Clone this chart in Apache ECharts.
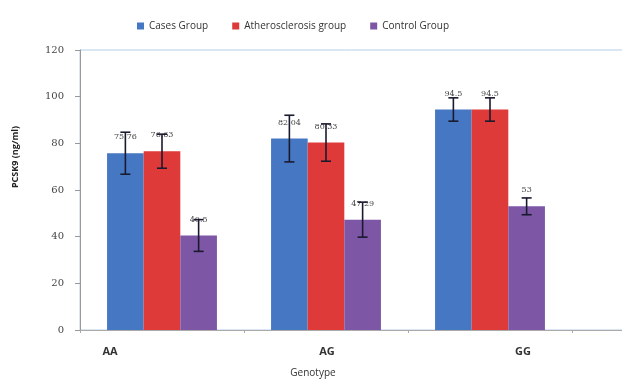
<!DOCTYPE html>
<html><head><meta charset="utf-8">
<script src="https://cdn.jsdelivr.net/npm/echarts@6/dist/echarts.min.js"></script>
<style>html,body{margin:0;padding:0;background:#fff}#c{width:622px;height:380px}</style>
</head><body><div id="c"></div>
<script>
var categories = ['AA', 'AG', 'GG'];
var seriesNames = ['Cases Group', 'Atherosclerosis group', 'Control Group'];
var casesValues = [75.76, 82.04, 94.5];
var atheroValues = [76.63, 80.33, 94.5];
var controlValues = [40.5, 47.29, 53];
var casesErrors = [9, 10, 5];
var atheroErrors = [7.3, 8, 5];
var controlErrors = [6.8, 7.5, 3.6];
var yTicks = [0, 20, 40, 60, 80, 100, 120];
var colors = ['#4677c2', '#df3a3a', '#7d56a6'];

var values = [casesValues, atheroValues, controlValues];
var errors = [casesErrors, atheroErrors, controlErrors];
var labelShift = {AA: 'l', AG: 'm', GG: 'r'};

var chart = echarts.init(document.getElementById('c'));
var series = [];
values.forEach(function (vals, si) {
  series.push({
    name: seriesNames[si], type: 'bar', data: vals, barGap: '0%', barCategoryGap: '33%',
    itemStyle: {color: colors[si]},
    label: {show: true, position: 'top', distance: 12, color: '#444', fontSize: 8,
      fontFamily: 'DejaVu Serif', formatter: function (p) { return String(p.value); }},
    z: 2
  });
});
values.forEach(function (vals, si) {
  series.push({
    type: 'custom', name: seriesNames[si] + ' err', z: 5, silent: true,
    data: vals.map(function (v, i) { return [i, v - errors[si][i], v + errors[si][i]]; }),
    renderItem: function (params, api) {
      var idx = api.value(0);
      var band = api.size([1, 0])[0];
      var barW = band * 0.67 / 3;
      var cx = api.coord([idx, 0])[0] + (si - 1) * barW;
      var lo = api.coord([idx, api.value(1)])[1];
      var hi = api.coord([idx, api.value(2)])[1];
      var cap = 5;
      var st = {stroke: '#1a1a2e', lineWidth: 1.6};
      return {type: 'group', children: [
        {type: 'line', shape: {x1: cx, y1: lo, x2: cx, y2: hi}, style: st},
        {type: 'line', shape: {x1: cx - cap, y1: lo, x2: cx + cap, y2: lo}, style: st},
        {type: 'line', shape: {x1: cx - cap, y1: hi, x2: cx + cap, y2: hi}, style: st}
      ]};
    }
  });
});

chart.setOption({
  animation: false,
  textStyle: {fontFamily: 'Open Sans'},
  legend: {
    data: seriesNames, top: 16, left: 132, itemWidth: 7, itemHeight: 7, itemGap: 24,
    icon: 'rect', textStyle: {fontSize: 10, color: '#333', fontFamily: 'Open Sans'}
  },
  grid: {left: 80, top: 50, width: 656, height: 280, show: true, borderColor: '#b4cde9', borderWidth: 1,
    outerBoundsMode: 'none', containLabel: false},
  xAxis: {
    type: 'category', data: categories, max: 3,
    axisLine: {lineStyle: {color: '#aaa'}},
    axisTick: {show: true, length: 3, lineStyle: {color: '#aaa'}},
    axisLabel: {
      margin: 16, fontSize: 11, fontWeight: 'bold', color: '#333',
      formatter: function (v) { return labelShift[v] ? '{' + labelShift[v] + '|' + v + '}' : ''; },
      rich: {
        l: {padding: [0, 104, 0, 0], fontSize: 11, fontWeight: 'bold', color: '#333'},
        m: {padding: [0, 0, 0, 2], fontSize: 11, fontWeight: 'bold', color: '#333'},
        r: {padding: [0, 0, 0, 66], fontSize: 11, fontWeight: 'bold', color: '#333'}
      }
    },
    name: 'Genotype', nameLocation: 'middle', nameGap: 38,
    nameTextStyle: {fontSize: 10, color: '#333', padding: [0, 190, 0, 0]}
  },
  yAxis: {
    type: 'value', min: 0, max: 120, interval: 20,
    axisLine: {show: true, lineStyle: {color: '#999'}},
    axisTick: {show: true, length: 5, lineStyle: {color: '#999'}},
    splitLine: {show: false},
    axisLabel: {margin: 16, fontSize: 10, color: '#444', fontFamily: 'DejaVu Serif',
      formatter: function (v) { return yTicks.indexOf(v) >= 0 ? String(v) : ''; }},
    name: 'PCSK9 (ng/ml)', nameLocation: 'middle', nameGap: 60,
    nameTextStyle: {fontSize: 9, color: '#222', fontWeight: 'bold', padding: [0, 0, 0, 66]}
  },
  series: series
});
</script></body></html>
